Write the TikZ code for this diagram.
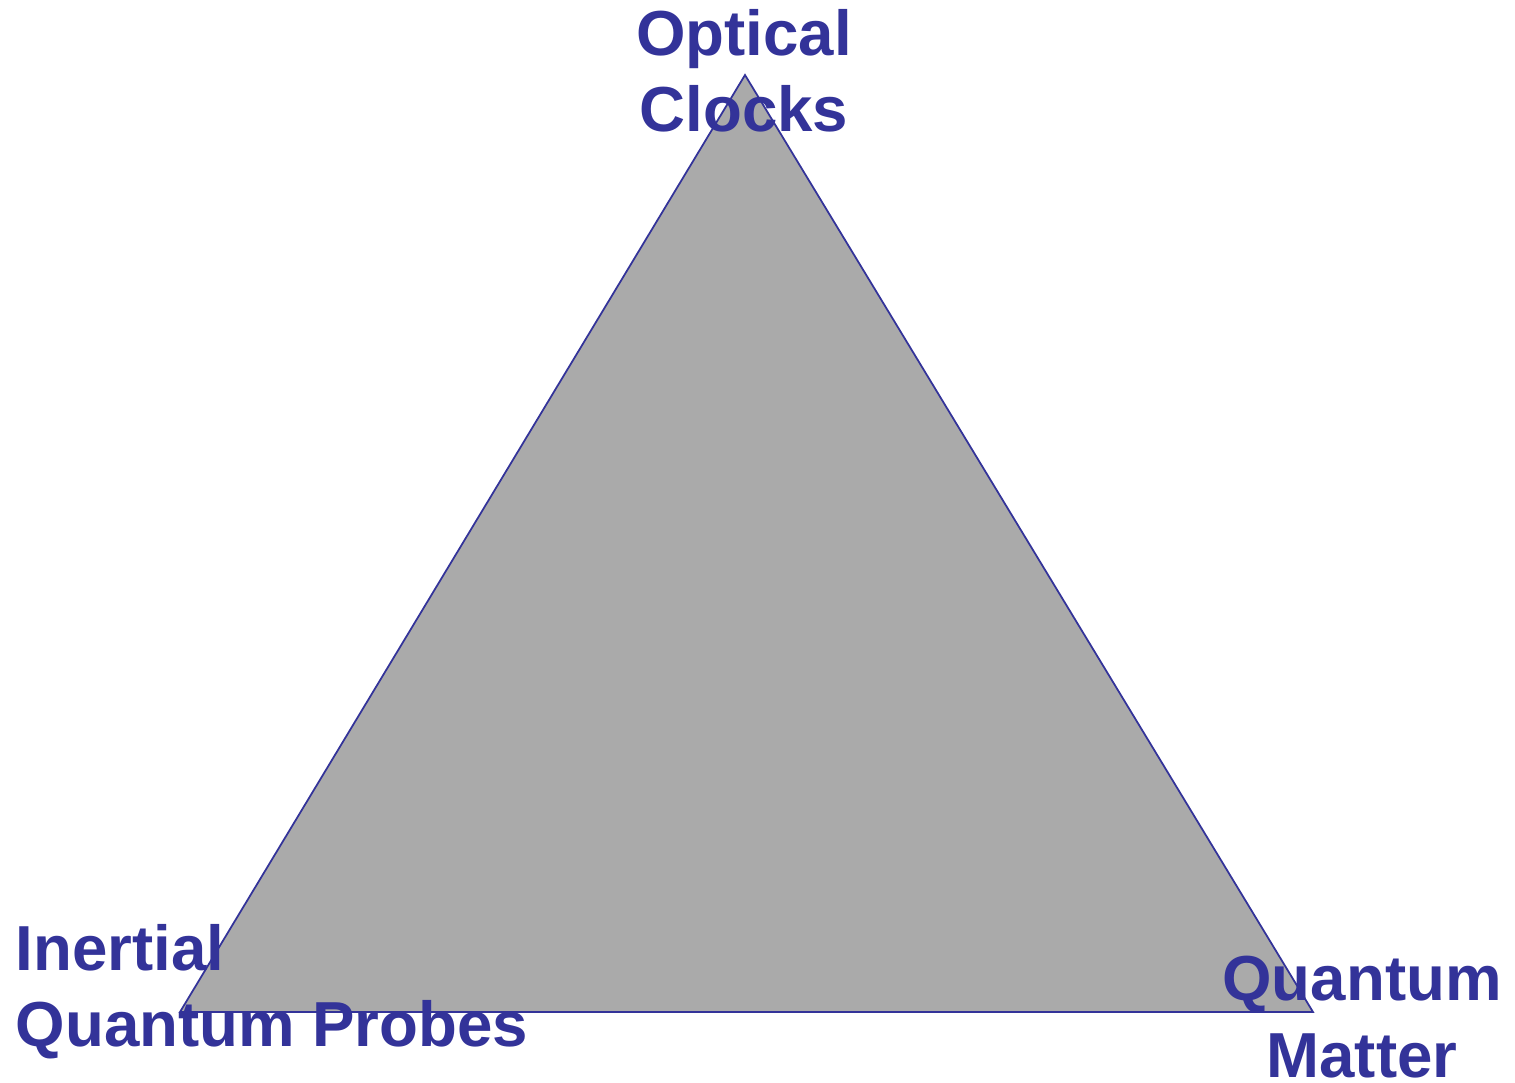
\documentclass[tikz,border=0pt]{standalone}
\usepackage{fontspec}
\setmainfont{Liberation Sans}
\usepackage{tikz}
\usetikzlibrary{positioning}

\definecolor{navy}{HTML}{333399}
\definecolor{greyfill}{HTML}{AAAAAA}

\begin{document}
\begin{tikzpicture}[
  corner/.style={font=\fontsize{18.1pt}{21.9pt}\selectfont\bfseries, text=navy, inner sep=0pt}
]
  \useasboundingbox (0,0) rectangle (15.15,10.82);

  % Triangle corners
  \coordinate (top) at (7.45,10.07);
  \coordinate (left) at (1.80,0.70);
  \coordinate (right) at (13.13,0.70);
  \filldraw[fill=greyfill, draw=navy, line width=0.5pt] (top) -- (left) -- (right) -- cycle;

  % Corner labels (anchored at the baseline of the last line)
  \node[corner, align=center, anchor=base] (clocks) at (7.44,9.50) {Optical\\Clocks};
  \node[corner, align=left, anchor=base west] (inertial) at (0.15,0.35) {Inertial\\Quantum Probes};
  \node[corner, align=center, anchor=base] (matter) at (13.62,0.05) {Quantum\\Matter};
\end{tikzpicture}
\end{document}
